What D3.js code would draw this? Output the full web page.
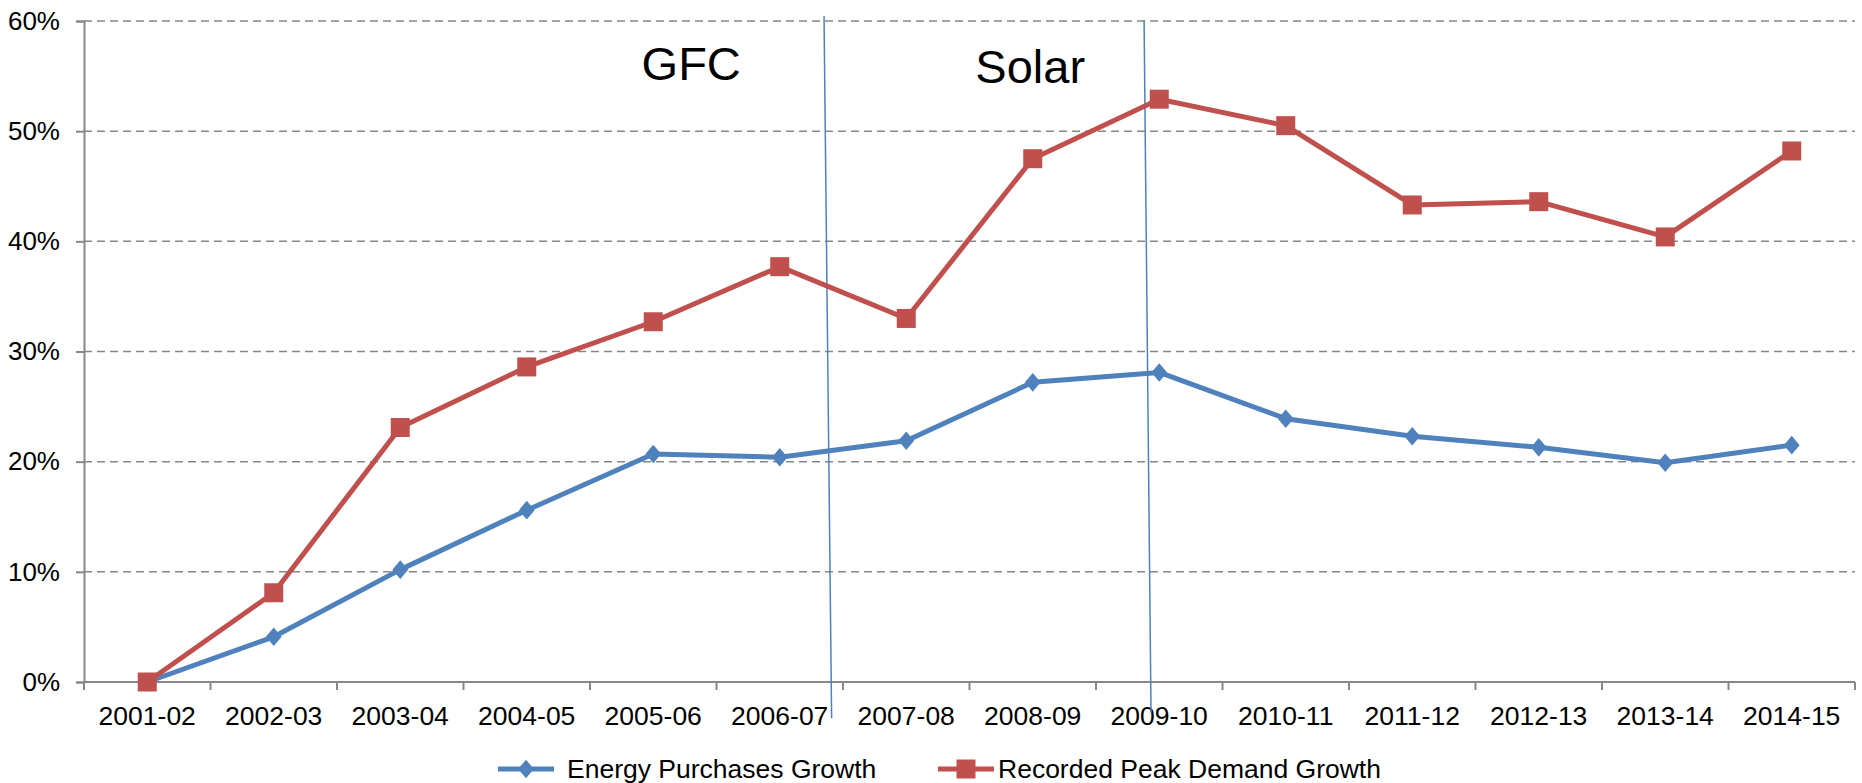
<!DOCTYPE html>
<html>
  <head>
    <meta charset="utf-8">
    <title>Energy purchases vs peak demand growth</title>
    <style>
      body { margin: 0; background: #fff; }
      text { font-family: "Liberation Sans", Arial, sans-serif; fill: #000; }
    </style>
  </head>
  <body>
    <div id="chart"></div>
    <script src="https://d3js.org/d3.v7.min.js"></script>
    <script>
// Chart values
const years = ['2001-02', '2002-03', '2003-04', '2004-05', '2005-06', '2006-07', '2007-08',
  '2008-09', '2009-10', '2010-11', '2011-12', '2012-13', '2013-14', '2014-15'];
const energyGrowth = [0, 4.1, 10.2, 15.6, 20.7, 20.4, 21.9, 27.2, 28.1, 23.9, 22.3, 21.3, 19.9, 21.5];
const peakGrowth = [0, 8.1, 23.1, 28.6, 32.7, 37.7, 33.0, 47.5, 52.9, 50.5, 43.3, 43.6, 40.4, 48.2];
const yTicks = [0, 10, 20, 30, 40, 50, 60];
const seriesNames = ['Energy Purchases Growth', 'Recorded Peak Demand Growth'];
// period dividers, in category index units (top / bottom) and percent
const dividers = [
  { top: 5.85, bottom: 5.91, yTop: 60.45, yBottom: -3.3 },
  { top: 8.38, bottom: 8.435, yTop: 60.1, yBottom: -2.8 }
];
const periodLabels = [
  { text: 'GFC', at: 4.80, y: 54.6 },
  { text: 'Solar', at: 7.48, y: 54.35 }
];

const W = 1862, H = 783;
const margin = { top: 21, right: 7, bottom: 101, left: 84 };
const blue = '#4f81bd', red = '#c0504d', grey = '#878787';

const svg = d3.select('#chart').append('svg')
  .attr('width', W).attr('height', H);

const x = d3.scaleBand().domain(years).range([margin.left, W - margin.right]);
const y = d3.scaleLinear().domain([0, 60]).range([H - margin.bottom, margin.top]);
const idx = d3.scaleLinear().domain([0, years.length]).range([margin.left, W - margin.right]);
const cx = d => x(d) + x.bandwidth() / 2;

// gridlines
svg.append('g').selectAll('line')
  .data(yTicks.filter(d => d > 0))
  .enter().append('line')
  .attr('x1', margin.left).attr('x2', W - margin.right)
  .attr('y1', d => y(d)).attr('y2', d => y(d))
  .attr('stroke', grey).attr('stroke-width', 1.5)
  .attr('stroke-dasharray', '8,5');

// y axis
const yAxis = svg.append('g')
  .attr('transform', `translate(${margin.left},0)`)
  .call(d3.axisLeft(y).tickValues(yTicks).tickSize(8).tickPadding(16)
    .tickFormat(d => d + '%'));
yAxis.selectAll('path, line').attr('stroke', grey).attr('stroke-width', 2);
yAxis.selectAll('text').attr('font-size', 26).attr('font-family', null).attr('fill', '#000');

// x axis
const xAxisG = svg.append('g');
xAxisG.append('line')
  .attr('x1', margin.left).attr('x2', W - margin.right)
  .attr('y1', y(0)).attr('y2', y(0))
  .attr('stroke', grey).attr('stroke-width', 2);
xAxisG.selectAll('.tick')
  .data(d3.range(years.length + 1))
  .enter().append('line')
  .attr('x1', d => idx(d)).attr('x2', d => idx(d))
  .attr('y1', y(0)).attr('y2', y(0) + 8)
  .attr('stroke', grey).attr('stroke-width', 2);
xAxisG.selectAll('text')
  .data(years)
  .enter().append('text')
  .attr('x', d => cx(d))
  .attr('y', y(0) + 34)
  .attr('dy', '0.35em')
  .attr('text-anchor', 'middle')
  .attr('font-size', 26.5)
  .text(d => d);

// divider lines
svg.append('g').selectAll('line')
  .data(dividers)
  .enter().append('line')
  .attr('x1', d => idx(d.top)).attr('y1', d => y(d.yTop))
  .attr('x2', d => idx(d.bottom)).attr('y2', d => y(d.yBottom))
  .attr('stroke', blue).attr('stroke-width', 1.5);

svg.append('g').selectAll('text')
  .data(periodLabels)
  .enter().append('text')
  .attr('x', d => idx(d.at)).attr('y', d => y(d.y))
  .attr('text-anchor', 'middle')
  .attr('font-size', 47)
  .text(d => d.text);

// series
const line = d3.line().x((d, i) => cx(years[i])).y(d => y(d));
const diamond = d3.symbol().type(d3.symbolDiamond2).size(220);

svg.append('path').datum(energyGrowth)
  .attr('fill', 'none').attr('stroke', blue).attr('stroke-width', 5)
  .attr('stroke-linejoin', 'round')
  .attr('d', line);
svg.append('path').datum(peakGrowth)
  .attr('fill', 'none').attr('stroke', red).attr('stroke-width', 5)
  .attr('stroke-linejoin', 'round')
  .attr('d', line);

svg.append('g').selectAll('path')
  .data(energyGrowth)
  .enter().append('path')
  .attr('transform', (d, i) => `translate(${cx(years[i])},${y(d)}) scale(0.85,1)`)
  .attr('d', diamond)
  .attr('fill', blue);

const sq = 19;
svg.append('g').selectAll('rect')
  .data(peakGrowth)
  .enter().append('rect')
  .attr('x', (d, i) => cx(years[i]) - sq / 2)
  .attr('y', d => y(d) - sq / 2)
  .attr('width', sq).attr('height', sq)
  .attr('fill', red);

// legend
const legendY = 769;
const legend = svg.append('g');
const items = [
  { name: seriesNames[0], color: blue, x0: 498, tx: 567, shape: 'diamond' },
  { name: seriesNames[1], color: red, x0: 938, tx: 998, shape: 'square' }
];
items.forEach(it => {
  legend.append('line')
    .attr('x1', it.x0).attr('x2', it.x0 + 56)
    .attr('y1', legendY).attr('y2', legendY)
    .attr('stroke', it.color).attr('stroke-width', 5);
  if (it.shape === 'diamond') {
    legend.append('path')
      .attr('transform', `translate(${it.x0 + 28},${legendY}) scale(0.85,1)`)
      .attr('d', diamond).attr('fill', it.color);
  } else {
    legend.append('rect')
      .attr('x', it.x0 + 28 - sq / 2).attr('y', legendY - sq / 2)
      .attr('width', sq).attr('height', sq).attr('fill', it.color);
  }
  legend.append('text')
    .attr('x', it.tx).attr('y', legendY)
    .attr('dy', '0.35em')
    .attr('font-size', 26.5)
    .text(it.name);
});
    </script>
  </body>
</html>
